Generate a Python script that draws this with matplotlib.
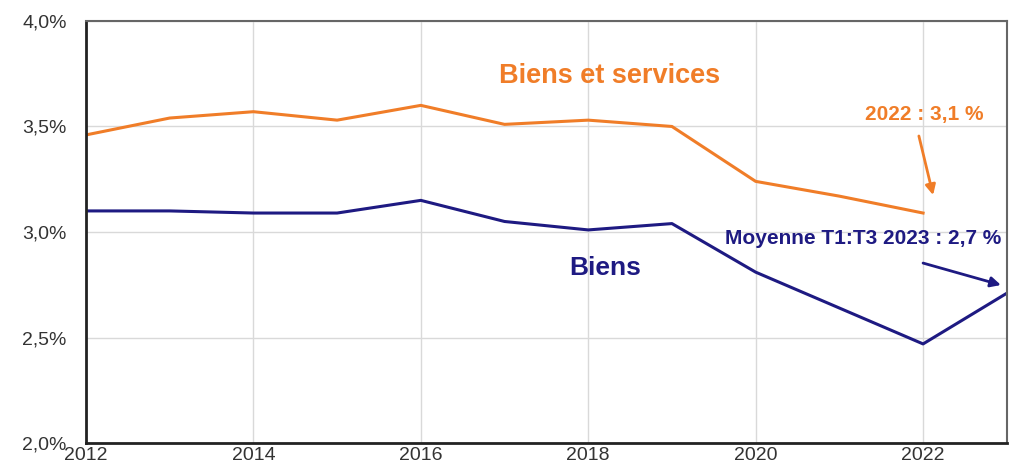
import matplotlib.pyplot as plt
from matplotlib.ticker import FuncFormatter

plt.rcParams['font.family'] = ['Liberation Sans', 'DejaVu Sans']

years = [2012, 2013, 2014, 2015, 2016, 2017, 2018, 2019, 2020, 2021, 2022]
biens_services = [3.46, 3.54, 3.57, 3.53, 3.60, 3.51, 3.53, 3.50, 3.24, 3.17, 3.09]

years_biens = [2012, 2013, 2014, 2015, 2016, 2017, 2018, 2019, 2020, 2021, 2022, 2023]
biens = [3.10, 3.10, 3.09, 3.09, 3.15, 3.05, 3.01, 3.04, 2.81, 2.64, 2.47, 2.71]

orange = '#F07D28'
navy = '#1E1A82'

fig = plt.figure(figsize=(10.19, 4.65), dpi=100)
ax = fig.add_axes([0.0844, 0.047, 0.9036, 0.908])

ax.plot(years, biens_services, color=orange, lw=2.2)
ax.plot(years_biens, biens, color=navy, lw=2.2)

ax.set_xlim(2012, 2023)
ax.set_ylim(2.0, 4.0)
ax.set_xticks([2012, 2014, 2016, 2018, 2020, 2022])
ax.set_yticks([2.0, 2.5, 3.0, 3.5, 4.0])
ax.yaxis.set_major_formatter(FuncFormatter(lambda v, p: f'{v:.1f}%'.replace('.', ',')))
ax.tick_params(length=0, labelsize=14, colors='#333333')
ax.tick_params(axis='x', pad=3)
ax.tick_params(axis='y', pad=14)
ax.grid(True, color='#d9d9d9', lw=1)
ax.set_axisbelow(True)

for s in ['top', 'right']:
    ax.spines[s].set_color('#666666')
    ax.spines[s].set_linewidth(1.5)
for s in ['left', 'bottom']:
    ax.spines[s].set_color('#222222')
    ax.spines[s].set_linewidth(2)

ax.text(2018.25, 3.74, 'Biens et services', color=orange, fontsize=19.5,
        fontweight='bold', ha='center', va='center')
ax.text(2018.2, 2.83, 'Biens', color=navy, fontsize=19,
        fontweight='bold', ha='center', va='center')

# 2022 : 3,1 %
ax.text(2022.01, 3.555, '2022 : 3,1 %', color=orange, fontsize=15,
        fontweight='bold', ha='center', va='center')
ax.annotate('', xy=(2022.12, 3.175), xytext=(2021.95, 3.455),
            arrowprops=dict(arrowstyle='-|>', color=orange, lw=2, shrinkA=0,
                            shrinkB=0, mutation_scale=15))

# Moyenne T1:T3 2023
ax.text(2021.28, 2.97, 'Moyenne T1:T3 2023 : 2,7 %', color=navy, fontsize=15,
        fontweight='bold', ha='center', va='center', clip_on=False)
ax.annotate('', xy=(2022.93, 2.749), xytext=(2022.0, 2.853),
            arrowprops=dict(arrowstyle='-|>', color=navy, lw=2, shrinkA=0,
                            shrinkB=0, mutation_scale=15))

fig.savefig('out.png', dpi=100)
